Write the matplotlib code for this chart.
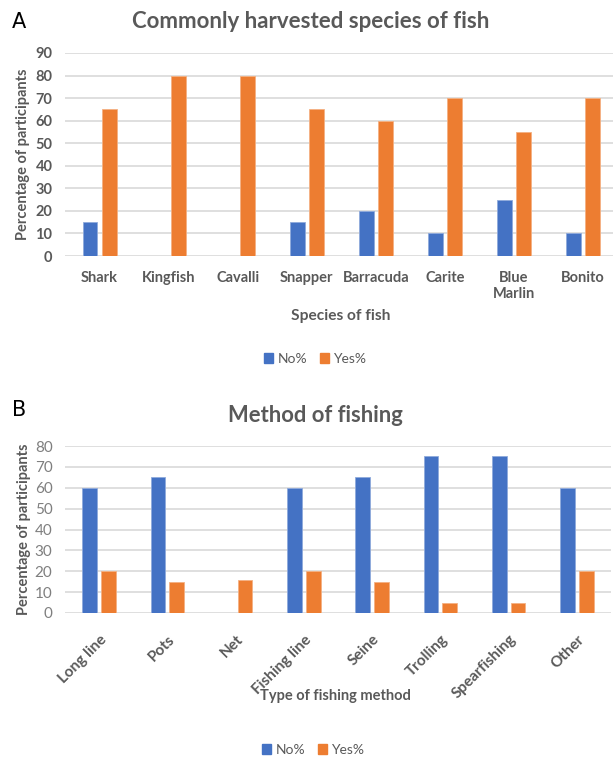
import numpy as np
import matplotlib
matplotlib.use("Agg")
import matplotlib.pyplot as plt
from matplotlib.patches import Patch

plt.rcParams['font.family'] = ['Lato', 'DejaVu Sans']

# Panel A data
species = ["Shark", "Kingfish", "Cavalli", "Snapper", "Barracuda", "Carite", "Blue\nMarlin", "Bonito"]
no_a = [15, 0, 0, 15, 20, 10, 25, 10]
yes_a = [65, 80, 80, 65, 60, 70, 55, 70]

# Panel B data
methods = ["Long line", "Pots", "Net", "Fishing line", "Seine", "Trolling", "Spearfishing", "Other"]
no_b = [60, 65, 0, 60, 65, 75, 75, 60]
yes_b = [20, 15, 16, 20, 15, 5, 5, 20]

BLUE = "#4472C4"
ORANGE = "#ED7D31"
GRID = "#D9D9D9"
TXT = "#595959"

W, H = 613, 759
fig = plt.figure(figsize=(W / 100, H / 100), dpi=100)


def px(x0, y0, x1, y1):
    # pixel box (left, top, right, bottom) -> figure fraction rect
    return [x0 / W, 1 - y1 / H, (x1 - x0) / W, (y1 - y0) / H]


def draw(ax, cats, no, yes, ymax):
    x = np.arange(len(cats))
    no = np.array(no, dtype=float)
    no[no == 0] = np.nan
    ax.bar(x - 0.138, no, width=0.217, color=BLUE, edgecolor="#8FAADC", linewidth=0.6, zorder=3)
    ax.bar(x + 0.138, yes, width=0.217, color=ORANGE, edgecolor="#F4B183", linewidth=0.6, zorder=3)
    ax.set_xlim(-0.5, len(cats) - 0.5)
    ax.set_ylim(0, ymax)
    ax.set_yticks(np.arange(0, ymax + 1, 10))
    ax.yaxis.grid(True, color=GRID, linewidth=1.2, zorder=0)
    for s in ax.spines.values():
        s.set_visible(False)
    ax.tick_params(length=0)
    ax.set_xticks(x)


# ---- Panel A ----
axA = fig.add_axes(px(65, 53, 617.5, 256))
draw(axA, species, no_a, yes_a, 90)
axA.set_xticklabels(species, fontsize=10.5, fontweight="bold", color=TXT, linespacing=1.2)
axA.tick_params(axis="x", pad=11)
axA.tick_params(axis="y", labelsize=10.5, labelcolor=TXT, pad=9)
for t in axA.get_yticklabels():
    t.set_fontweight("bold")
axA.set_ylabel("Percentage of participants", fontsize=10.5, fontweight="bold", color=TXT, labelpad=4)
fig.text(341 / W, 1 - 316 / H, "Species of fish", ha="center", va="center",
         fontsize=11.2, fontweight="bold", color=TXT)
fig.text(311 / W, 1 - 22 / H, "Commonly harvested species of fish", ha="center", va="center",
         fontsize=16, fontweight="bold", color=TXT)
fig.text(12 / W, 1 - 22 / H, "A", ha="left", va="center", fontsize=15, color="black",
         family="DejaVu Sans")

# ---- Panel B ----
axB = fig.add_axes(px(65, 446, 611, 613))
draw(axB, methods, no_b, yes_b, 80)
axB.set_xticklabels(methods, fontsize=11, fontweight="bold", color=TXT, rotation=45,
                    ha="right", rotation_mode="anchor")
axB.tick_params(axis="x", pad=14)
axB.tick_params(axis="y", labelsize=11, labelcolor="#7F7F7F", pad=9)
axB.set_ylabel("Percentage of participants", fontsize=10.5, fontweight="bold", color=TXT, labelpad=3)
fig.text(335 / W, 1 - 696 / H, "Type of fishing method", ha="center", va="center",
         fontsize=10.5, fontweight="bold", color=TXT)
fig.text(315 / W, 1 - 415 / H, "Method of fishing", ha="center", va="center",
         fontsize=15.8, fontweight="bold", color=TXT)
fig.text(12 / W, 1 - 410 / H, "B", ha="left", va="center", fontsize=15, color="black",
         family="DejaVu Sans")

# legends
handles = [Patch(color=BLUE, label="No%"), Patch(color=ORANGE, label="Yes%")]
for yy, cx in ((359, 315), (750, 313)):
    fig.legend(handles=handles, loc="center", bbox_to_anchor=(cx / W, 1 - yy / H), ncol=2,
               frameon=False, fontsize=10, labelcolor=TXT, handlelength=0.7, handleheight=0.7,
               handletextpad=0.3, columnspacing=0.9, borderpad=0.2)

fig.savefig("out.png", dpi=100)
